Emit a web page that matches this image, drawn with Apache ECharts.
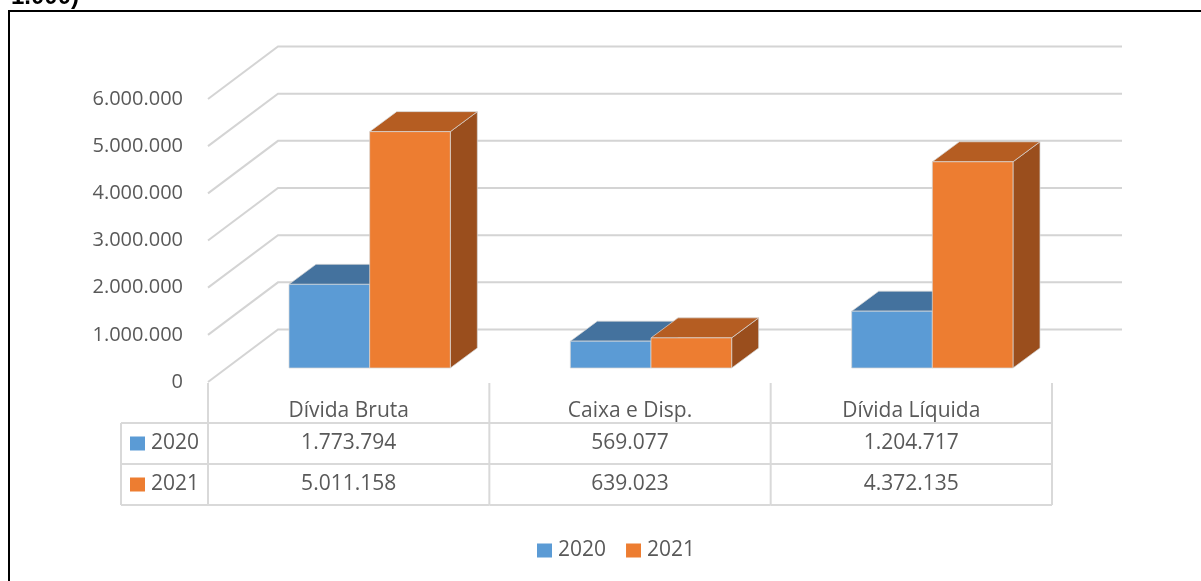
<!DOCTYPE html>
<html>
<head>
<meta charset="utf-8">
<script src="https://cdn.jsdelivr.net/npm/echarts@6/dist/echarts.min.js"></script>
<style>
  html, body { margin: 0; padding: 0; background: #ffffff; }
  #chart { width: 1201px; height: 581px; }
</style>
</head>
<body>
<div id="chart"></div>
<script>
// Endividamento (R$ 1.000)
const categories = ['Dívida Bruta', 'Caixa e Disp.', 'Dívida Líquida'];
const seriesNames = ['2020', '2021'];
const values2020 = [1773794, 569077, 1204717];
const values2021 = [5011158, 639023, 4372135];
const yTicks = [0, 1000000, 2000000, 3000000, 4000000, 5000000, 6000000];

const FONT = '"Open Sans", "Noto Sans", sans-serif';
const TEXT = '#595959';
const GRID_LINE = '#d4d4d4';
const TABLE_LINE = '#d9d9d9';

// oblique projection used for the 3D look
const WALL_DX = 70, WALL_DY = -52.5;     // front plane -> back wall
const BAR_DX = 21, BAR_DY = -14;         // front plane -> bar front face
const DEPTH_DX = 27, DEPTH_DY = -20;     // bar front face -> bar back face
const BAR_RATIO = 0.2867;                // bar width / category band

const colors = [
  { front: '#5b9bd5', top: '#44729e', side: '#3c6690' },
  { front: '#ed7d31', top: '#b55d22', side: '#9a4e1d' }
];

function fmt(v) {
  return String(v).replace(/\B(?=(\d{3})+(?!\d))/g, '.');
}

const chart = echarts.init(document.getElementById('chart'), null, { renderer: 'canvas' });

// walls: side-wall diagonals and back-wall lines for every tick
function renderGridLine(params, api) {
  const cs = params.coordSys;
  const v = api.value(0);
  const p = api.coord([0, v]);
  const x0 = cs.x, y0 = p[1];
  const bx = x0 + WALL_DX, by = y0 + WALL_DY;
  const ex = cs.x + cs.width + WALL_DX;
  return {
    type: 'polyline',
    shape: { points: [[x0, y0], [bx, by], [ex, by]] },
    style: { stroke: GRID_LINE, lineWidth: 2, fill: null },
    silent: true
  };
}

function makeBarRenderer(sIdx) {
  return function (params, api) {
    const idx = api.value(0);
    const val = api.value(1);
    const base = api.coord([idx, 0]);
    const top = api.coord([idx, val]);
    const band = api.size([1, 0])[0];
    const w = band * BAR_RATIO;
    const cx = base[0] + BAR_DX;
    const xl = sIdx === 0 ? cx - w : cx;
    const xr = xl + w;
    const yb = base[1] + BAR_DY;
    const yt = top[1] + BAR_DY;
    const c = colors[sIdx];
    const edge = { stroke: 'rgba(215,215,215,0.9)', lineWidth: 0.8 };
    return {
      type: 'group',
      children: [
        {
          type: 'polygon',
          shape: { points: [[xr, yt], [xr + DEPTH_DX, yt + DEPTH_DY], [xr + DEPTH_DX, yb + DEPTH_DY], [xr, yb]] },
          style: Object.assign({ fill: c.side }, edge)
        },
        {
          type: 'polygon',
          shape: { points: [[xl, yt], [xl + DEPTH_DX, yt + DEPTH_DY], [xr + DEPTH_DX, yt + DEPTH_DY], [xr, yt]] },
          style: Object.assign({ fill: c.top }, edge)
        },
        {
          type: 'rect',
          shape: { x: xl, y: yt, width: w, height: yb - yt },
          style: Object.assign({ fill: c.front }, edge)
        }
      ]
    };
  };
}

// data table under the plot
const ROW_H = 41;
const TABLE_LEFT = 121;
function renderTable(params, api) {
  const cs = params.coordSys;
  const idx = api.value(0);
  const x0 = cs.x, y0 = cs.y + cs.height;   // front baseline
  const band = api.size([1, 0])[0];
  const center = api.coord([idx, 0])[0];
  const left = center - band / 2, right = center + band / 2;
  const r1 = y0 + ROW_H, r2 = r1 + ROW_H, r3 = r2 + ROW_H;
  const line = (x1, y1, x2, y2) => ({
    type: 'line', shape: { x1: x1, y1: y1, x2: x2, y2: y2 },
    style: { stroke: TABLE_LINE, lineWidth: 2 }, silent: true
  });
  const txt = (s, x, y) => ({
    type: 'text',
    style: { text: s, x: x, y: y, fill: TEXT, font: '21px ' + FONT, align: 'center', verticalAlign: 'middle' }
  });
  const children = [
    line(right, y0 + 1, right, r3),
    line(left, r1, right, r1),
    line(left, r2, right, r2),
    line(left, r3, right, r3),
    txt(fmt(api.value(1)), center, (r1 + r2) / 2),
    txt(fmt(api.value(2)), center, (r2 + r3) / 2)
  ];
  if (idx === 0) {
    children.push(line(x0, y0 + 1, x0, r3));
    children.push(line(TABLE_LEFT, r1, x0, r1));
    children.push(line(TABLE_LEFT, r2, x0, r2));
    children.push(line(TABLE_LEFT, r3, x0, r3));
    children.push(line(TABLE_LEFT, r1, TABLE_LEFT, r3));
    seriesNames.forEach(function (name, i) {
      const yc = r1 + ROW_H * i + ROW_H / 2;
      children.push({
        type: 'rect', shape: { x: TABLE_LEFT + 9, y: yc - 7, width: 15, height: 14 },
        style: { fill: colors[i].front }
      });
      children.push({
        type: 'text',
        style: { text: name, x: TABLE_LEFT + 30, y: yc, fill: TEXT, font: '21px ' + FONT, align: 'left', verticalAlign: 'middle' }
      });
    });
  }
  return { type: 'group', children: children };
}

const option = {
  backgroundColor: '#ffffff',
  animation: false,
  textStyle: { fontFamily: FONT },
  graphic: [
    {
      type: 'text', left: 11, top: -15,
      style: { text: '1.000)', font: 'bold 24px "Liberation Sans", Arial, sans-serif', fill: '#000000' }
    },
    {
      type: 'rect', shape: { x: 9, y: 11, width: 1210, height: 600 },
      style: { fill: null, stroke: '#000000', lineWidth: 2 }, silent: true, z: 0
    }
  ],
  grid: { left: 208, right: 149, top: 99, bottom: 199 },
  legend: {
    data: seriesNames,
    left: 532, top: 535,
    itemWidth: 15, itemHeight: 14, itemGap: 20,
    icon: 'rect',
    textStyle: { color: TEXT, fontSize: 21, fontFamily: FONT, padding: [0, 0, 0, 1] }
  },
  xAxis: {
    type: 'category',
    data: categories,
    axisLine: { show: false },
    axisTick: { show: false },
    axisLabel: { color: TEXT, fontSize: 21, fontFamily: FONT, margin: 19 }
  },
  yAxis: {
    type: 'value',
    min: 0, max: 6000000, interval: 1000000,
    axisLine: { show: false },
    axisTick: { show: false },
    splitLine: { show: false },
    axisLabel: { color: TEXT, fontSize: 20, fontFamily: FONT, margin: 25, formatter: fmt }
  },
  series: [
    {
      type: 'custom', name: 'walls', renderItem: renderGridLine, z: 1,
      data: yTicks.map(function (v) { return [v]; }),
      encode: { y: 0 }, silent: true
    },
    {
      type: 'custom', name: seriesNames[0], renderItem: makeBarRenderer(0), z: 2,
      itemStyle: { color: colors[0].front },
      data: values2020.map(function (v, i) { return [i, v]; }),
      encode: { x: 0, y: 1 }
    },
    {
      type: 'custom', name: seriesNames[1], renderItem: makeBarRenderer(1), z: 3,
      itemStyle: { color: colors[1].front },
      data: values2021.map(function (v, i) { return [i, v]; }),
      encode: { x: 0, y: 1 }
    },
    {
      type: 'custom', name: 'table', renderItem: renderTable, z: 4,
      data: categories.map(function (c, i) { return [i, values2020[i], values2021[i]]; }),
      encode: { x: 0 }, silent: true
    }
  ]
};

chart.setOption(option);
</script>
</body>
</html>
